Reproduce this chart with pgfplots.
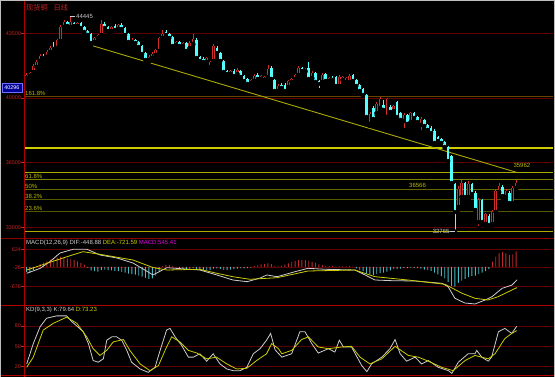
\documentclass[border=0pt]{standalone}
\usepackage{fontspec}
\setmainfont{Liberation Sans}
\newfontfamily\cjk{Noto Sans CJK SC}
\usepackage{pgfplots}
\usepackage{pgfplotstable}
\pgfplotsset{compat=1.18}
\definecolor{gridr}{RGB}{95,0,0}
\definecolor{sepr}{RGB}{140,0,0}
\definecolor{axr}{RGB}{175,0,0}
\definecolor{labr}{RGB}{200,35,35}
\definecolor{upc}{RGB}{210,45,45}
\definecolor{dnc}{RGB}{84,255,255}
\definecolor{ylw}{RGB}{205,205,0}
\definecolor{ylw2}{RGB}{170,170,0}
\definecolor{fib1}{RGB}{130,130,0}
\definecolor{fib2}{RGB}{100,100,0}
\definecolor{fib3}{RGB}{85,85,0}
\definecolor{brn}{RGB}{105,70,0}
\definecolor{fibt}{RGB}{185,185,0}
\definecolor{difc}{RGB}{205,205,205}
\definecolor{macdr}{RGB}{190,40,40}
\definecolor{macdc}{RGB}{70,185,195}
\definecolor{mag}{RGB}{230,0,230}
\definecolor{boxb}{RGB}{0,0,150}
\definecolor{boxe}{RGB}{110,110,255}
\definecolor{frm}{RGB}{190,190,190}
\newcommand\tickfont{\fontsize{5.4}{6}\selectfont}
\newcommand\labfont{\fontsize{6}{7}\selectfont}
\pgfplotsset{
 panel/.style={scale only axis, width=529pt, xmin=-0.74, xmax=154.85, anchor=south west,
  axis line style={draw=none}, xtick=\empty, ytick pos=left, ymajorgrids,
  grid style={gridr, line width=0.8pt}, tick style={draw=labr, line width=0.6pt},
  major tick length=2.5pt, tick align=outside,
  yticklabel style={font=\tickfont, text=labr, inner sep=0.5pt},
  clip mode=individual},
 wick/.style={only marks, mark=none, forget plot, error bars/y dir=plus, error bars/y explicit, error bars/error mark=none, error bars/error bar style={draw=#1, line width=0.8pt}},
 body/.style 2 args={only marks, mark=none, forget plot, error bars/y dir=plus, error bars/y explicit, error bars/error mark=none, error bars/error bar style={draw=#1, line width=#2}},
}
\pgfplotstableread{
i o h l c
0 41084 41355 41030 41247
1 41192 41409 41138 41355
2 41409 41843 41355 41734
3 41680 42060 41626 41951
4 42005 42385 41951 42276
5 42276 42385 42114 42168
6 42222 42602 42168 42493
7 42493 42818 42439 42710
8 42764 43035 42602 42656
9 42710 43198 42602 43144
10 43089 43957 43035 43848
11 43848 44228 43794 44119
12 44119 44173 43848 43902
13 43848 44445 43686 44119
14 44065 44119 43794 43902
15 43902 44119 43794 44065
16 44065 44119 43686 43794
17 43848 43902 43523 43577
18 43631 43686 43360 43415
19 43469 43523 42873 42981
20 43035 43306 42981 43252
21 43252 43469 43198 43415
22 43415 44228 43360 44011
23 44011 44119 43740 43794
24 43848 43902 43577 43631
25 43631 43902 43577 43848
26 43902 44011 43631 43686
27 43740 44011 43686 43957
28 43957 44065 43631 43740
29 43794 43848 43360 43415
30 43469 43523 42927 43035
31 43035 43252 42927 43144
32 43144 43198 42873 42981
33 43035 43089 42710 42764
34 42818 42873 42331 42385
35 42439 42493 42005 42060
36 42060 42331 41951 42222
37 42168 42493 42060 42385
38 42331 42656 42222 42602
39 42547 43306 42493 43252
40 43252 43686 43198 43469
41 43577 43686 43360 43415
42 43469 43523 43144 43252
43 43306 43360 42710 42818
44 42873 43089 42764 43035
45 43035 43089 42710 42818
46 42818 43035 42710 42981
47 42981 43035 42493 42547
48 42710 43089 42656 42981
49 42927 43469 42873 43198
50 43144 43252 42060 42168
51 42222 42276 41951 42005
52 42114 42222 41843 41951
53 41951 42222 41897 42168
54 41680 42005 41626 41951
55 42005 42927 41951 42818
56 42710 42818 42385 42439
57 42439 42493 41897 42005
58 42005 42060 41355 41409
59 41463 41518 41247 41301
60 41301 41518 41247 41463
61 41463 41572 41138 41192
62 41301 41626 41247 41518
63 41463 41518 41084 41138
64 41192 41247 40867 40921
65 41030 41084 40705 40759
66 40813 41030 40759 40976
67 40921 41301 40813 41192
68 41247 41355 40976 41030
69 41030 41247 40976 41192
70 40976 41192 40867 41138
71 41138 41789 41084 41572
72 41626 41734 40976 41030
73 40976 41030 40325 40379
74 40379 40759 40271 40650
75 40705 40813 40488 40542
76 40705 40813 40271 40379
77 40596 40976 40542 40921
78 40867 41084 40759 41030
79 41030 41301 40976 41247
80 41247 41734 41192 41626
81 41626 41680 41409 41463
82 41463 41626 41409 41572
83 41626 41951 40976 41030
84 41084 41463 41030 41355
85 41355 41409 40759 40867
86 40921 40976 40434 40759
87 40867 41355 40813 41247
88 41301 41355 40867 40921
89 40921 41138 40867 41084
90 41084 41192 40921 40976
91 41138 41192 40596 40650
92 40650 41247 40596 41138
93 40976 41192 40867 41138
94 40867 41138 40813 41084
95 40867 41301 40813 41192
96 41247 41301 40867 40921
97 40976 41030 40596 40650
98 40705 40759 40325 40379
99 40488 40542 40108 40163
100 40163 40217 38862 38970
101 38591 39241 38482 39133
102 39458 39566 38753 38862
103 39187 39783 39079 39675
104 39458 40054 39350 39946
105 39621 39892 39295 39350
106 38970 40000 38862 39946
107 39512 39621 39187 39241
108 39295 39621 39187 39566
109 39783 39837 38862 38970
110 39187 39241 38699 38808
111 38753 39187 38266 39079
112 39079 39133 38482 38591
113 38699 39241 38645 39187
114 39187 39241 38808 38916
115 38970 39024 38591 38699
116 38537 38970 38157 38862
117 38808 38862 38428 38482
118 38537 38591 38211 38266
119 38374 38482 38049 38103
120 38211 38320 37507 37561
121 37886 37940 37561 37669
122 37778 37832 37507 37561
123 37615 37669 37290 37344
124 37344 37398 36477 36585
125 36856 36911 35230 35393
126 35339 35393 32765 33821
127 34092 35230 33930 35068
128 34634 35556 34472 35393
129 35393 35447 34526 34634
130 34634 35501 34526 35339
131 35339 35393 34688 34797
132 34851 34959 33821 33930
133 33279 34580 32954 34472
134 34472 34526 33225 33279
135 33171 33767 33062 33713
136 33604 33713 33008 33117
137 33171 33930 33062 33821
138 33821 35068 33767 34959
139 34905 35393 34743 35230
140 35176 35285 34580 34688
141 34634 35068 34472 34959
142 34851 34959 34146 34309
143 34309 35230 34255 35122
144 35122 35556 35014 35393
}\candles
\begin{document}
\begin{tikzpicture}[x=1pt,y=1pt]
\fill[black] (0,0) rectangle (555,-377);
% ---------------- main price panel
\begin{axis}[panel, at={(24pt,-238.3pt)}, height=237.3pt, ymin=32396, ymax=45257,
  ytick={33000,36500,40000,43500}, yticklabels={33000,36500,40000,43500}]
\addplot[brn, line width=1.4pt] coordinates {(-0.74,40090) (154.85,40090)};
\addplot[ylw, line width=1.6pt] coordinates {(-0.74,37306) (154.85,37306)};
\addplot[ylw2, line width=0.9pt] coordinates {(-0.74,35962) (154.85,35962)};
\addplot[fib1, line width=0.9pt] coordinates {(-0.74,35571) (154.85,35571)};
\addplot[fib2, line width=0.9pt] coordinates {(-0.74,35035) (154.85,35035)};
\addplot[fib3, line width=0.9pt] coordinates {(-0.74,34500) (154.85,34500)};
\addplot[fib3, line width=0.9pt] coordinates {(-0.74,33837) (154.85,33837)};
\addplot[ylw2, line width=1.2pt] coordinates {(-0.74,32765) (154.85,32765)};
\addplot[ylw2, line width=0.9pt] coordinates {(18.7,42873) (144.3,35962)};
% candles
\addplot[restrict expr to domain={\thisrow{c}-\thisrow{o}}{-100000:-1}, wick=dnc]
  table[x=i, y=l, y error expr=\thisrow{h}-\thisrow{l}] \candles;
\addplot[restrict expr to domain={\thisrow{c}-\thisrow{o}}{-100000:-1}, body={dnc}{2.5pt}]
  table[x=i, y=c, y error expr=\thisrow{o}-\thisrow{c}] \candles;
\addplot[restrict expr to domain={\thisrow{c}-\thisrow{o}}{1:100000}, wick=upc]
  table[x=i, y=l, y error expr=\thisrow{h}-\thisrow{l}] \candles;
\addplot[restrict expr to domain={\thisrow{c}-\thisrow{o}}{1:100000}, body={upc}{2.6pt}]
  table[x=i, y=o, y error expr=\thisrow{c}-\thisrow{o}] \candles;
\addplot[restrict expr to domain={\thisrow{c}-\thisrow{o}}{1:100000}, body={black}{0.7pt}]
  table[x=i, y=o, y error expr=\thisrow{c}-\thisrow{o}] \candles;
% annotations
\addplot[difc, line width=0.6pt] coordinates {(12.7,44445) (14.3,44445)};
\addplot[difc, line width=0.6pt] coordinates {(124.6,32765) (126,32765)};
\node[anchor=south west, inner sep=1pt, text=fibt, font=\labfont] at (axis cs:-0.74,40090) {161.8\%};
\node[anchor=south west, inner sep=1pt, text=fibt, font=\labfont] at (axis cs:-0.74,35571) {61.8\%};
\node[anchor=south west, inner sep=1pt, text=fibt, font=\labfont] at (axis cs:-0.74,35035) {50\%};
\node[anchor=south west, inner sep=1pt, text=fibt, font=\labfont] at (axis cs:-0.74,34500) {38.2\%};
\node[anchor=south west, inner sep=1pt, text=fibt, font=\labfont] at (axis cs:-0.74,33837) {23.6\%};
\node[anchor=west, inner sep=0.5pt, text=difc, font=\labfont] at (axis cs:14.4,44445) {44445};
\node[anchor=east, inner sep=0.5pt, text=difc, font=\labfont] at (axis cs:124.6,32765) {32765};
\node[inner sep=0pt, text=fibt, font=\labfont] at (axis cs:145.7,36342) {35962};
\node[inner sep=0pt, text=fibt, font=\labfont] at (axis cs:115,35285) {36566};
\end{axis}
% ---------------- MACD panel
\begin{axis}[panel, at={(24pt,-305.5pt)}, height=67.2pt, ymin=-1353, ymax=1006,
  ytick={-676,-26,624}, yticklabels={-676,-26,624}]
\addplot[ybar, bar width=0.9pt, bar shift=0pt, fill=macdr, draw=none] coordinates {
(3,40) (4,100) (5,150) (6,200) (7,260) (8,300) (9,330) (10,350) (11,330) (12,300) (13,280) (14,240) (15,200) (16,140) (17,80)
(40,20) (41,60) (42,70) (43,40)
(67,30) (68,60) (69,90) (70,110) (71,130) (72,100) (73,40) (74,20) (75,40) (76,80) (77,130) (78,180) (79,210) (80,240) (81,245) (82,240) (83,220) (84,180) (85,140) (86,90) (87,60) (88,40) (89,30) (90,25) (91,15) (92,20) (93,25) (94,20) (95,25) (96,10)
(137,190) (138,360) (139,480) (140,530) (141,480) (142,420) (143,440) (144,545)};
\addplot[ybar, bar width=0.9pt, bar shift=0pt, fill=macdc, draw=none] coordinates {
(0,-180) (1,-200) (2,-100)
(18,-30) (19,-120) (20,-150) (21,-160) (22,-100) (23,-90) (24,-110) (25,-120) (26,-140) (27,-150) (28,-170) (29,-200) (30,-230) (31,-250) (32,-270) (33,-300) (34,-340) (35,-380) (36,-420) (37,-400) (38,-300) (39,-150)
(44,-10) (45,-30) (46,-40) (47,-70) (48,-60) (49,-40) (50,-80) (51,-110) (52,-120) (53,-110) (54,-100) (55,-60) (56,-50) (57,-70) (58,-100) (59,-100) (60,-90) (61,-80) (62,-60) (63,-50) (64,-50) (65,-40) (66,-20)
(97,-50) (98,-100) (99,-150) (100,-230) (101,-260) (102,-280) (103,-250) (104,-220) (105,-200) (106,-160) (107,-120) (108,-80) (109,-70) (110,-60) (111,-40) (112,-40) (113,-30) (114,-30) (115,-40) (116,-60) (117,-90) (118,-110) (119,-140) (120,-200) (121,-260) (122,-320) (123,-400) (124,-530) (125,-660) (126,-690) (127,-560) (128,-480) (129,-420) (130,-360) (131,-310) (132,-300) (133,-250) (134,-200) (135,-150) (136,-80)};
\addplot[difc, line width=0.8pt] coordinates {
(0.06,-223) (4,-50) (7,200) (9.85,490) (13.7,620) (17.8,620) (21.6,420) (26.6,315) (31.3,139) (35.4,-150) (37.2,-280) (39.3,-150) (41.3,-26) (51.0,-107) (56.0,-282) (60.7,-458) (64.9,-517) (68.7,-388) (70.7,-282) (73.7,-342) (79.0,-166) (82.8,-47) (87.8,-82) (96.6,-107) (99.6,-282) (102.5,-458) (107.5,-482) (114.3,-493) (122.2,-574) (124.0,-693) (126.0,-1100) (128.9,-1265) (131.9,-1300) (134.9,-1160) (136.9,-1044) (139.9,-749) (142.8,-633) (144.3,-449)};
\addplot[ylw, line width=0.8pt] coordinates {
(0.06,-107) (11.9,360) (16.6,536) (21.6,444) (31.3,244) (37.2,-20) (41.3,-107) (51.0,-82) (56.0,-223) (60.7,-342) (65.7,-433) (73.7,-377) (82.8,-142) (96.6,-107) (102.5,-342) (112.2,-458) (123.1,-609) (128.1,-925) (131.9,-1100) (135.7,-1160) (138.7,-1044) (144.3,-722)};
\end{axis}
% ---------------- KD panel
\begin{axis}[panel, at={(24pt,-375pt)}, height=69.5pt, ymin=7.6, ymax=110.3,
  ytick={20,50,80}, yticklabels={20,50,80}]
\addplot[difc, line width=0.8pt] coordinates {
(0.06,24) (2.0,54) (4.0,79) (5.9,91.5) (8.9,95) (11.8,95) (13.3,86.5) (14.8,80) (16.7,71.5) (18.2,54) (19.6,29) (21.1,26.5) (22.6,31.5) (23.6,59) (25.1,64) (26.5,64) (28.0,59) (29.5,44) (30.9,26.5) (33.4,16.5) (35.8,11.5) (37.8,19) (39.3,44) (41.2,74) (42.2,76.5) (43.7,64) (45.6,51.5) (47.6,34) (49.1,34) (51.0,39) (53.0,28) (54.9,39) (56.9,24) (58.9,16.5) (60.8,14) (62.8,14) (64.8,19) (66.7,39) (68.7,46.5) (70.6,59) (71.8,69) (73.1,45) (75.1,34) (78.0,39) (80.4,71.5) (81.9,71.5) (83.9,54) (85.8,40) (88.8,46.5) (90.7,41.5) (92.0,59) (93.2,49) (95.6,49) (98.6,21.5) (100.1,12.5) (101.5,24) (104.5,34) (106.9,46.5) (108.4,60) (109.9,39) (111.8,28) (114.3,34) (116.2,24) (118.2,29) (121.1,19) (124.1,14) (125.1,10) (127.0,26.5) (129.9,39) (131.9,39) (132.4,44) (133.9,34) (135.8,28) (136.8,34) (138.8,71.5) (140.7,76.5) (142.7,69) (144.2,79.64)};
\addplot[ylw, line width=0.8pt] coordinates {
(0.06,19) (2.0,34) (4.9,74) (7.9,84) (11.8,93) (14.8,84) (17.7,64) (19.6,46.5) (21.6,36.5) (23.6,44) (25.5,56.5) (28.5,60) (30.4,44) (33.4,24) (36.3,14) (38.8,21.5) (41.2,49) (42.7,64) (45.1,56.5) (47.6,44) (50.1,40) (53.0,31.5) (55.9,34) (58.9,24) (61.8,16.5) (64.8,17.5) (67.7,29) (70.6,39) (72.1,54) (74.1,46.5) (75.1,39) (78.0,44) (80.9,60) (82.9,64) (85.8,49) (88.8,46.5) (92.7,49) (95.6,50) (98.1,34) (101.0,24) (104.5,31.5) (108.4,50) (112.3,36.5) (115.2,34) (118.2,28) (122.1,19) (125.5,14) (129.0,29) (131.9,36.5) (135.8,31.5) (137.8,39) (140.7,61.5) (142.7,69) (144.2,73.23)};
\end{axis}
% ---------------- frame, separators, texts
\draw[axr, line width=1pt] (24,0) -- (24,-377);
\draw[sepr, line width=0.9pt] (0,-238.3) -- (555,-238.3);
\draw[axr, line width=1.4pt] (0,-305.5) -- (555,-305.5);
\draw[axr, line width=1pt] (0,-375) -- (555,-375);
\draw[frm, line width=1pt] (0.5,-377) -- (0.5,-0.5) -- (554.5,-0.5) -- (554.5,-377);
\node[anchor=base west, inner sep=0pt, text=labr, font=\cjk\fontsize{7.2}{8}\selectfont] at (26,-10.6) {现货铜\hspace{0.8em}日线};
\node[fill=boxb, draw=boxe, line width=0.5pt, text=white, font=\tickfont, inner sep=0.8pt, minimum width=20pt, minimum height=9.5pt] at (11.8,-88) {40296};
\node[anchor=west, inner sep=0pt, font=\labfont] at (26,-243.2) {\color{difc}MACD(12,26,9) DIF:-448.88 \color{ylw}DEA:-721.59 \color{mag}MACD:545.41};
\node[anchor=west, inner sep=0pt, font=\labfont] at (26,-309.6) {\color{difc}KD(9,3,3) K:79.64 \color{ylw}D:73.23};
\pgfresetboundingbox
\path (0,0) rectangle (555,-377);
\end{tikzpicture}
\end{document}
